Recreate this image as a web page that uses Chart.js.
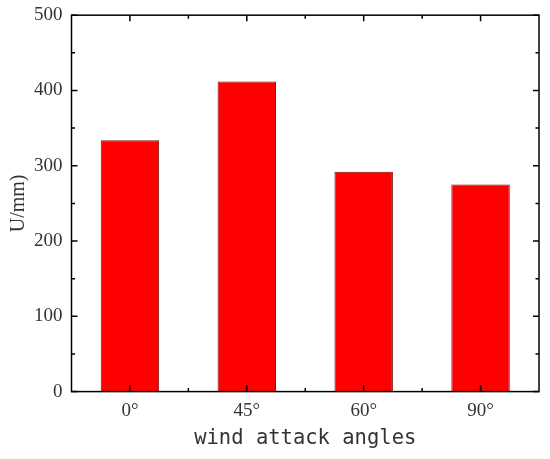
<!DOCTYPE html>
<html>
<head>
<meta charset="utf-8">
<script src="https://cdn.jsdelivr.net/npm/chart.js@4.4.0/dist/chart.umd.min.js"></script>
<style>
  html, body { margin: 0; padding: 0; background: #fff; }
  #wrap { width: 550px; height: 459px; }
</style>
</head>
<body>
<div id="wrap"><canvas id="myChart" width="550" height="459"></canvas></div>
<script>
const labels = ['0°', '45°', '60°', '90°'];
const values = [334, 412, 292, 275];
const yTicks = [0, 100, 200, 300, 400, 500];

// inward ticks on all four sides, like the original plot frame
const frameTicks = {
  id: 'frameTicks',
  afterDraw(chart) {
    const c = chart.ctx;
    const x = chart.scales.x, y = chart.scales.y;
    const a = chart.chartArea;
    c.save();
    c.strokeStyle = '#000';
    c.lineWidth = 1.5;
    c.strokeRect(a.left, a.top, a.right - a.left, a.bottom - a.top);
    c.beginPath();
    for (let v = 0; v <= 500; v += 50) {
      const py = y.getPixelForValue(v);
      const len = v % 100 === 0 ? 6 : 3.5;
      c.moveTo(a.left, py); c.lineTo(a.left + len, py);
      c.moveTo(a.right, py); c.lineTo(a.right - len, py);
    }
    for (let i = 0; i < labels.length; i++) {
      const px = x.getPixelForValue(i);
      c.moveTo(px, a.bottom); c.lineTo(px, a.bottom - 6);
      c.moveTo(px, a.top); c.lineTo(px, a.top + 6);
      if (i > 0) {
        const mx = (px + x.getPixelForValue(i - 1)) / 2;
        c.moveTo(mx, a.bottom); c.lineTo(mx, a.bottom - 3.5);
        c.moveTo(mx, a.top); c.lineTo(mx, a.top + 3.5);
      }
    }
    c.stroke();
    c.restore();
  }
};

let ctx = document.getElementById('myChart').getContext('2d');
var myChart = new Chart(ctx, {
  type: 'bar',
  data: {
    labels: labels,
    datasets: [{
      data: values,
      backgroundColor: '#ff0000',
      borderColor: '#7a1010',
      borderWidth: 1,
      borderSkipped: 'bottom',
      barPercentage: 0.5,
      categoryPercentage: 1.0
    }]
  },
  options: {
    responsive: false,
    animation: false,
    layout: { padding: { top: 4, right: 11, left: 13, bottom: 12 } },
    plugins: { legend: { display: false }, tooltip: { enabled: false } },
    scales: {
      x: {
        grid: { display: false, drawTicks: false },
        border: { display: false },
        ticks: {
          color: '#333',
          padding: 10,
          font: { family: '"Liberation Serif", serif', size: 19, lineHeight: 1 }
        },
        title: {
          display: true,
          text: 'wind attack angles',
          color: '#333',
          padding: { top: 0, bottom: 0 },
          font: { family: '"DejaVu Sans Mono", monospace', size: 20.5, lineHeight: 0.8 }
        }
      },
      y: {
        min: 0,
        max: 500,
        afterBuildTicks: (axis) => { axis.ticks = yTicks.map(v => ({ value: v })); },
        grid: { display: false, drawTicks: false },
        border: { display: false },
        ticks: {
          color: '#333',
          padding: 9,
          font: { family: '"Liberation Serif", serif', size: 19, lineHeight: 0.65 }
        },
        title: {
          display: true,
          text: 'U/mm)',
          color: '#333',
          padding: { top: 0, bottom: 0 },
          font: { family: '"Liberation Serif", serif', size: 20, lineHeight: 0.6 }
        }
      }
    }
  },
  plugins: [frameTicks]
});
</script>
</body>
</html>
